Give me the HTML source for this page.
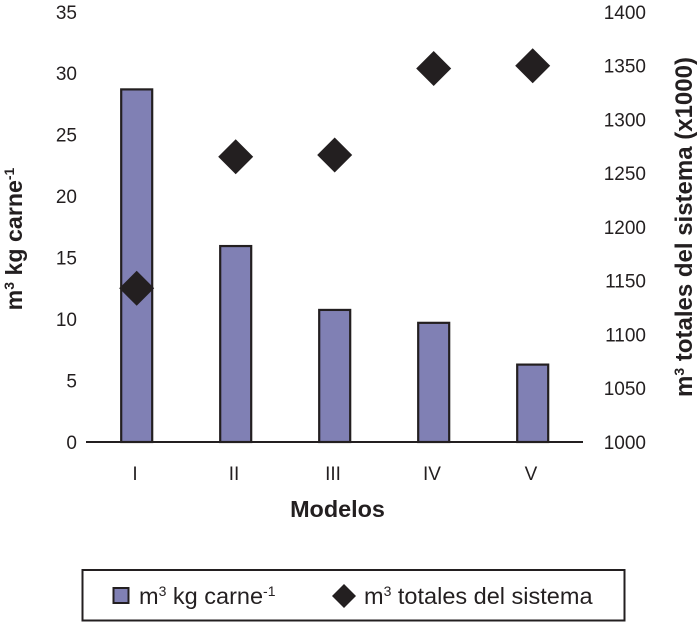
<!DOCTYPE html>
<html lang="es">
<head>
<meta charset="utf-8">
<title>Modelos</title>
<style>
html,body{margin:0;padding:0;background:#fff;width:700px;height:622px;overflow:hidden}
svg{display:block;font-family:"Liberation Sans",sans-serif;fill:#231f20}
</style>
</head>
<body>
<svg id="chart" xmlns="http://www.w3.org/2000/svg" width="700" height="622" viewBox="0 0 700 622">
  <g id="bars"></g>
  <line x1="86" y1="442" x2="583" y2="442" stroke="#231f20" stroke-width="2"></line>
  <g id="points"></g>
  <g id="left-ticks"></g>
  <g id="right-ticks"></g>
  <g id="cat-ticks"></g>
  <text x="337.5" y="517" text-anchor="middle" font-size="23.4" font-weight="bold">Modelos</text>
  <text transform="translate(22,239) rotate(-90)" text-anchor="middle" font-size="23.2" font-weight="bold">m<tspan font-size="14" dy="-8">3</tspan><tspan dy="8"> kg carne</tspan><tspan font-size="14" dy="-8">-1</tspan></text>
  <text transform="translate(692,227) rotate(-90)" text-anchor="middle" font-size="24" font-weight="bold">m<tspan font-size="14" dy="-8">3</tspan><tspan dy="8"> totales del sistema (x1000)</tspan></text>
  <g>
    <rect x="82.5" y="570" width="542" height="50.5" fill="#fff" stroke="#231f20" stroke-width="2"></rect>
    <rect x="113.5" y="588" width="15" height="15" fill="#8080b4" stroke="#231f20" stroke-width="2"></rect>
    <text x="139" y="604" font-size="23.5">m<tspan font-size="14" dy="-8">3</tspan><tspan dy="8"> kg carne</tspan><tspan font-size="14" dy="-8">-1</tspan></text>
    <polygon points="344,584 356,596 344,608 332,596" fill="#231f20"></polygon>
    <text x="364" y="604" font-size="23.5">m<tspan font-size="14" dy="-8">3</tspan><tspan dy="8"> totales del sistema</tspan></text>
  </g>
</svg>
<script>
const categories = ['I', 'II', 'III', 'IV', 'V'];
const barValues = [28.7, 15.95, 10.75, 9.7, 6.3];
const pointValues = [1143, 1265.4, 1267, 1347.5, 1350];
const leftTicks = [0, 5, 10, 15, 20, 25, 30, 35];
const rightTicks = [1000, 1050, 1100, 1150, 1200, 1250, 1300, 1350, 1400];

const NS = 'http://www.w3.org/2000/svg';
const yBase = 442, yTop = 12, xStart = 87.2, xEnd = 582.2;
const yLeft = v => yBase - (v - 0) / (35 - 0) * (yBase - yTop);
const yRight = v => yBase - (v - 1000) / (1400 - 1000) * (yBase - yTop);
const xCat = i => xStart + (i + 0.5) * (xEnd - xStart) / categories.length;
const barWidth = 31;
const diamond = 17.5;

function mk(tag, attrs, parent, txt) {
  const el = document.createElementNS(NS, tag);
  for (const k in attrs) el.setAttribute(k, attrs[k]);
  if (txt !== undefined) el.textContent = txt;
  parent.appendChild(el);
  return el;
}

const barsG = document.getElementById('bars');
barValues.forEach((v, i) => {
  const y = yLeft(v);
  const el = mk('rect', {x: xCat(i) - barWidth / 2, y: y, width: barWidth, height: yBase - y, fill: '#8080b4', stroke: '#231f20', 'stroke-width': 2.2}, barsG);
  
  
});

const pointsG = document.getElementById('points');
pointValues.forEach((v, i) => {
  const cx = xCat(i), cy = yRight(v);
  const el = mk('polygon', {points: [cx, cy - diamond, cx + diamond, cy, cx, cy + diamond, cx - diamond, cy].join(' '), fill: '#231f20'}, pointsG);
  
  
});

const leftG = document.getElementById('left-ticks');
leftTicks.forEach(v => {
  const el = mk('text', {x: 77, y: yLeft(v) + 6.8, 'text-anchor': 'end', 'font-size': 19}, leftG, String(v));
  
  
});

const rightG = document.getElementById('right-ticks');
rightTicks.forEach(v => {
  const el = mk('text', {x: 646, y: yRight(v) + 6.8, 'text-anchor': 'end', 'font-size': 19}, rightG, String(v));
  
  
});

const catG = document.getElementById('cat-ticks');
categories.forEach((c, i) => {
  const el = mk('text', {x: xCat(i) - 1.7, y: 480, 'text-anchor': 'middle', 'font-size': 19}, catG, c);
  
  
});
</script>
</body>
</html>
